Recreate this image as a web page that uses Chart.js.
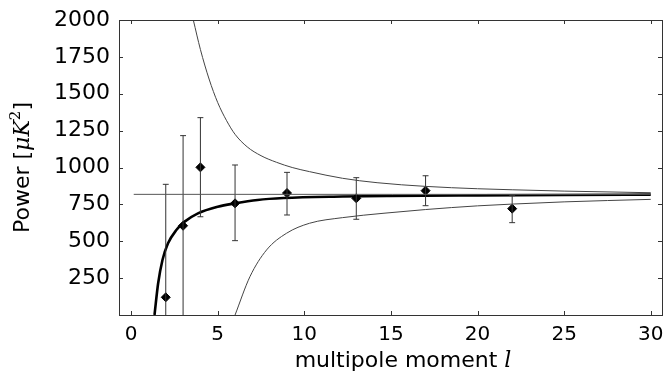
<!DOCTYPE html>
<html>
<head>
<meta charset="utf-8">
<script src="https://cdn.jsdelivr.net/npm/chart.js@4.4.0/dist/chart.umd.min.js"></script>
<style>
  html, body { margin: 0; padding: 0; background: #fff; }
  #wrap { width: 669px; height: 372px; }
</style>
</head>
<body>
<div id="wrap"><canvas id="powerChart"></canvas></div>
<script>
// measured band powers with error bars
const ell = [2, 3, 4, 6, 9, 13, 17, 22];
const power = [120, 605, 1001, 757, 827, 791, 843, 721];
const errHigh = [886, 1216, 1338, 1017, 967, 931, 944, 809];
const errLow = [0, 0, 666, 504, 678, 649, 741, 626];

// thick model curve
const modelL = [1.35, 1.56, 1.81, 2.13, 2.61, 3.09, 3.86, 5.0, 6.0, 7.3, 8.8, 12.2, 14.9, 20, 25, 30];
const modelP = [0, 215, 373, 486, 576, 633, 689, 734, 757, 780, 793, 803, 807, 811, 814, 816];

// thin envelope curves
const upperL = [3.59, 4.0, 4.5, 5.0, 5.5, 6.0, 6.7, 7.5, 8.4, 9.3, 10.3, 12.2, 14.2, 17, 20, 22, 25, 30];
const upperP = [2000, 1800, 1600, 1440, 1320, 1225, 1140, 1080, 1035, 1000, 972, 927, 897, 872, 856, 849, 840, 829];
const lowerL = [6.0, 6.86, 7.82, 8.97, 10.3, 12.2, 14.6, 17, 20, 22, 25, 30];
const lowerP = [0, 260, 441, 554, 622, 660, 690, 715, 740, 752, 767, 784];

// flat reference level
const flatL = [0.15, 30];
const flatP = [818, 818];

const xTicks = [0, 5, 10, 15, 20, 25, 30];
const yTicks = [250, 500, 750, 1000, 1250, 1500, 1750, 2000];

const toPoints = (xs, ys) => xs.map((x, i) => ({ x: x, y: ys[i] }));

// error bars as broken line segments, with small caps
const capHalf = 0.17;
const errPoints = [];
ell.forEach((l, i) => {
  errPoints.push({ x: l, y: errLow[i] }, { x: l, y: errHigh[i] }, { x: l, y: null });
  errPoints.push({ x: l - capHalf, y: errHigh[i] }, { x: l + capHalf, y: errHigh[i] }, { x: l, y: null });
  if (errLow[i] > 0) {
    errPoints.push({ x: l - capHalf, y: errLow[i] }, { x: l + capHalf, y: errLow[i] }, { x: l, y: null });
  }
});

// box, inward tick marks and the axis titles
const frame = {
  id: 'frame',
  afterDatasetsDraw(chart) {
    const { ctx, chartArea: a, scales } = chart;
    ctx.save();
    ctx.strokeStyle = '#333';
    ctx.lineWidth = 1;
    ctx.strokeRect(a.left + 0.5, a.top + 0.5, a.right - a.left, a.bottom - a.top);
    ctx.beginPath();
    xTicks.forEach(v => {
      const px = Math.round(scales.x.getPixelForValue(v)) + 0.5;
      ctx.moveTo(px, a.bottom); ctx.lineTo(px, a.bottom - 4);
      ctx.moveTo(px, a.top); ctx.lineTo(px, a.top + 4);
    });
    yTicks.forEach(v => {
      const py = Math.round(scales.y.getPixelForValue(v)) + 0.5;
      ctx.moveTo(a.left, py); ctx.lineTo(a.left + 4, py);
      ctx.moveTo(a.right, py); ctx.lineTo(a.right - 4, py);
    });
    ctx.stroke();

    ctx.fillStyle = '#000';
    ctx.textBaseline = 'alphabetic';
    // x title
    drawParts(ctx, [
      { t: 'multipole moment ', f: '22px "DejaVu Sans"', dy: 0 },
      { t: 'l', f: 'italic 22px "DejaVu Serif"', dy: 0 }
    ], 403, 367);
    // y title, rotated
    ctx.translate(29, (a.top + a.bottom) / 2);
    ctx.rotate(-Math.PI / 2);
    drawParts(ctx, [
      { t: 'Power [', f: '22px "DejaVu Sans"', dy: 0 },
      { t: 'μK', f: 'italic 22px "DejaVu Serif"', dy: 0 },
      { t: '2', f: '15px "DejaVu Serif"', dy: -9 },
      { t: ']', f: '22px "DejaVu Sans"', dy: 0 }
    ], 0, 0);
    ctx.restore();
  }
};

function drawParts(ctx, parts, cx, y) {
  let total = 0;
  parts.forEach(p => { ctx.font = p.f; p.w = ctx.measureText(p.t).width; total += p.w; });
  let x = cx - total / 2;
  ctx.textAlign = 'left';
  parts.forEach(p => {
    ctx.font = p.f;
    ctx.fillText(p.t, x, y + p.dy);
    x += p.w;
  });
}

const ctx = document.getElementById('powerChart').getContext('2d');
new Chart(ctx, {
  type: 'scatter',
  data: {
    datasets: [
      {
        label: 'flat',
        data: toPoints(flatL, flatP),
        showLine: true,
        borderColor: '#555',
        borderWidth: 1,
        pointRadius: 0
      },
      {
        label: 'upper',
        data: toPoints(upperL, upperP),
        showLine: true,
        borderColor: '#444',
        borderWidth: 1,
        pointRadius: 0,
        cubicInterpolationMode: 'monotone'
      },
      {
        label: 'lower',
        data: toPoints(lowerL, lowerP),
        showLine: true,
        borderColor: '#444',
        borderWidth: 1,
        pointRadius: 0,
        cubicInterpolationMode: 'monotone'
      },
      {
        label: 'errors',
        data: errPoints,
        showLine: true,
        spanGaps: false,
        borderColor: '#333',
        borderWidth: 1,
        pointRadius: 0
      },
      {
        label: 'model',
        data: toPoints(modelL, modelP),
        showLine: true,
        borderColor: '#000',
        borderWidth: 2.6,
        pointRadius: 0,
        cubicInterpolationMode: 'monotone'
      },
      {
        label: 'data',
        data: toPoints(ell, power),
        pointStyle: 'rectRot',
        pointRadius: 4.5,
        backgroundColor: '#000',
        borderColor: '#000',
        borderWidth: 1
      }
    ]
  },
  options: {
    responsive: true,
    maintainAspectRatio: false,
    animation: false,
    events: [],
    layout: { padding: { top: 20, right: 7, left: 0, bottom: 0 } },
    plugins: {
      legend: { display: false },
      tooltip: { enabled: false }
    },
    scales: {
      x: {
        type: 'linear',
        min: -0.7,
        max: 30.65,
        grid: { display: false, drawTicks: false },
        border: { display: false },
        afterBuildTicks: s => { s.ticks = xTicks.map(v => ({ value: v })); },
        afterFit: s => { s.height = 57; s.paddingLeft = 0; s.paddingRight = 0; },
        ticks: {
          font: { family: '"DejaVu Sans", sans-serif', size: 20 },
          color: '#000',
          padding: 8,
          maxRotation: 0,
          autoSkip: false,
          callback: v => String(v)
        }
      },
      y: {
        type: 'linear',
        min: 0,
        max: 2000,
        grid: { display: false, drawTicks: false },
        border: { display: false },
        afterBuildTicks: s => { s.ticks = yTicks.map(v => ({ value: v })); },
        afterFit: s => { s.width = 119; s.paddingTop = 0; s.paddingBottom = 0; },
        ticks: {
          font: { family: '"DejaVu Sans", sans-serif', size: 22 },
          color: '#000',
          padding: 9,
          autoSkip: false,
          callback: v => String(v)
        }
      }
    }
  },
  plugins: [frame]
});
</script>
</body>
</html>
